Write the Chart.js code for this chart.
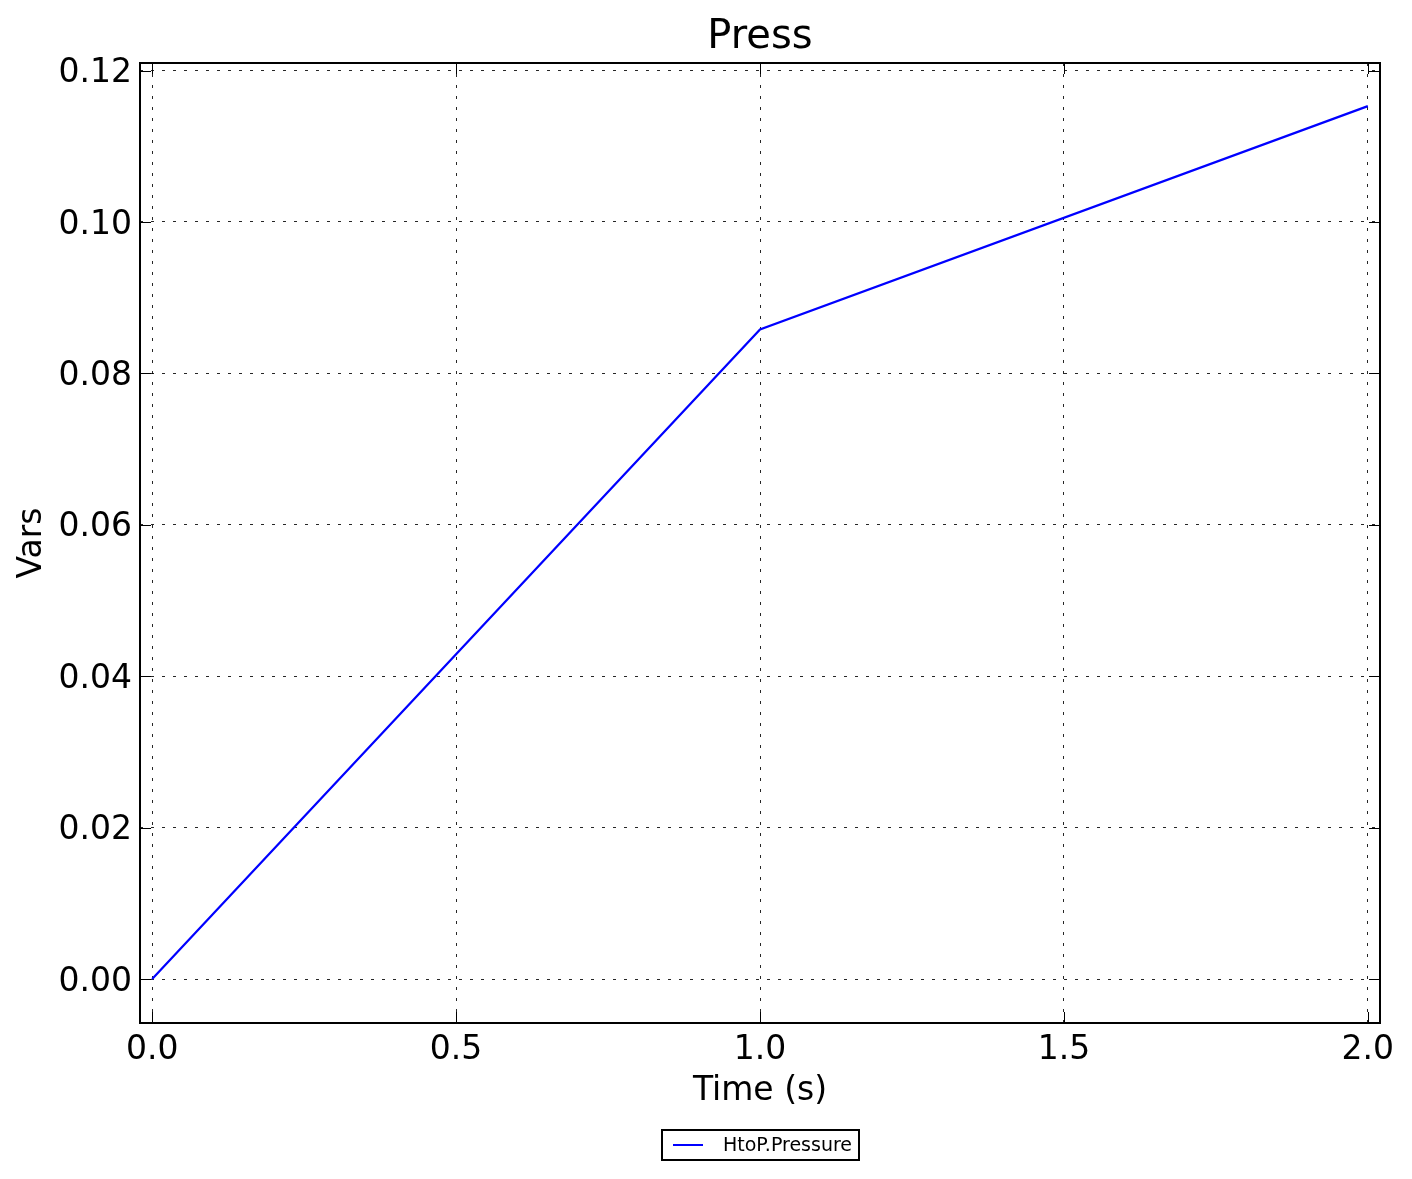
<!DOCTYPE html>
<html>
<head>
<meta charset="utf-8">
<script src="https://cdn.jsdelivr.net/npm/chart.js@4.4.0/dist/chart.umd.min.js"></script>
<style>
  html, body { margin: 0; padding: 0; background: #ffffff; }
  #wrap { width: 1412px; height: 1179px; }
</style>
</head>
<body>
<div id="wrap"><canvas id="PressChart"></canvas></div>
<script>
(function () {
  "use strict";

  // data
  const time_s = [0.0, 1.0, 2.0];
  const htop_pressure = [0.0, 0.0858, 0.1153];
  const x_ticks = [0.0, 0.5, 1.0, 1.5, 2.0];
  const y_ticks = [0.00, 0.02, 0.04, 0.06, 0.08, 0.10, 0.12];
  const series_label = 'HtoP.Pressure';

  const font_family = "'DejaVu Sans', sans-serif";
  const line_blue = '#0000ff';
  const grid_color = 'rgba(0,0,0,0.85)';

  // frame, inward ticks (all four sides) and boxed legend like matplotlib classic
  const frameTicks = {
    id: 'frameTicks',
    afterDraw(chart) {
      const ctx = chart.ctx;
      const a = chart.chartArea;
      const xs = chart.scales.x;
      const ys = chart.scales.y;
      const tl = 11;
      ctx.save();
      ctx.strokeStyle = '#000';
      ctx.lineWidth = 1;
      ctx.beginPath();
      x_ticks.forEach(function (v) {
        const px = Math.round(xs.getPixelForValue(v)) + 0.5;
        ctx.moveTo(px, a.bottom); ctx.lineTo(px, a.bottom - tl);
        ctx.moveTo(px, a.top); ctx.lineTo(px, a.top + tl);
      });
      y_ticks.forEach(function (v) {
        const py = Math.round(ys.getPixelForValue(v)) + 0.5;
        ctx.moveTo(a.left, py); ctx.lineTo(a.left + tl, py);
        ctx.moveTo(a.right, py); ctx.lineTo(a.right - tl, py);
      });
      ctx.stroke();
      ctx.lineWidth = 2;
      ctx.strokeRect(a.left, a.top, a.right - a.left, a.bottom - a.top);

      // legend box
      const ds = chart.data.datasets[0];
      const lx = 662, ly = 1130, lw = 197, lh = 30;
      ctx.lineWidth = 2;
      ctx.strokeRect(lx, ly, lw, lh);
      ctx.strokeStyle = ds.borderColor;
      ctx.lineWidth = 2;
      ctx.beginPath();
      ctx.moveTo(lx + 11, ly + lh / 2);
      ctx.lineTo(lx + 41, ly + lh / 2);
      ctx.stroke();
      ctx.fillStyle = '#000';
      ctx.font = '19px ' + font_family;
      ctx.textBaseline = 'middle';
      ctx.textAlign = 'left';
      ctx.fillText(ds.label, lx + 61, ly + lh / 2 + 1);
      ctx.restore();
    }
  };

  const ctx = document.getElementById('PressChart').getContext('2d');
  new Chart(ctx, {
    type: 'line',
    data: {
      datasets: [{
        label: series_label,
        data: time_s.map(function (t, i) { return { x: t, y: htop_pressure[i] }; }),
        borderColor: line_blue,
        backgroundColor: line_blue,
        borderWidth: 2.2,
        pointRadius: 0,
        tension: 0,
        fill: false
      }]
    },
    options: {
      responsive: true,
      maintainAspectRatio: false,
      animation: false,
      layout: {
        padding: { left: 0, right: 32, top: 0, bottom: 56 }
      },
      scales: {
        x: {
          type: 'linear',
          min: -0.02,
          max: 2.02,
          afterBuildTicks: function (scale) {
            scale.ticks = x_ticks.map(function (v) { return { value: v }; });
          },
          afterFit: function (scale) { scale.height = 100; },
          grid: { color: grid_color, lineWidth: 1, drawTicks: false },
          border: { display: false, dash: [3, 8] },
          ticks: {
            padding: 8,
            color: '#000',
            maxRotation: 0,
            font: { family: font_family, size: 33 },
            callback: function (v) { return Number(v).toFixed(1); }
          },
          title: {
            display: true,
            text: 'Time (s)',
            color: '#000',
            font: { family: font_family, size: 33 },
            padding: { top: 0, bottom: 12 }
          }
        },
        y: {
          type: 'linear',
          min: -0.0058,
          max: 0.1210,
          afterBuildTicks: function (scale) {
            scale.ticks = y_ticks.map(function (v) { return { value: v }; });
          },
          afterFit: function (scale) { scale.width = 140; },
          grid: { color: grid_color, lineWidth: 1, drawTicks: false },
          border: { display: false, dash: [3, 8] },
          ticks: {
            padding: 8,
            labelOffset: 3,
            color: '#000',
            font: { family: font_family, size: 33 },
            callback: function (v) { return Number(v).toFixed(2); }
          },
          title: {
            display: true,
            text: 'Vars',
            color: '#000',
            font: { family: font_family, size: 33 },
            padding: { top: 13, bottom: 0 }
          }
        }
      },
      plugins: {
        legend: { display: false },
        tooltip: { enabled: false },
        title: {
          display: true,
          fullSize: false,
          text: 'Press',
          color: '#000',
          font: { family: font_family, size: 40, weight: 'normal', lineHeight: 1.1 },
          padding: { top: 16, bottom: 3 }
        }
      }
    },
    plugins: [frameTicks]
  });
})();
</script>
</body>
</html>
